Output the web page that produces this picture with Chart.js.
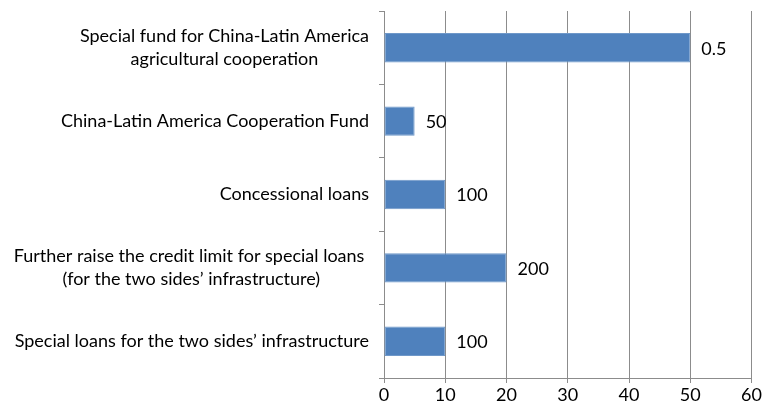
<!DOCTYPE html>
<html>
<head>
<meta charset="utf-8">
<script src="https://cdn.jsdelivr.net/npm/chart.js@4.4.1/dist/chart.umd.min.js"></script>
<style>
  html, body { margin: 0; padding: 0; background: #fff; }
  #chart { display: block; }
</style>
</head>
<body>
<canvas id="chart" width="763" height="406"></canvas>
<script>
// categories, top to bottom (each entry = lines of the label)
const categories = [
    ['Special fund for China-Latin America', 'agricultural cooperation'],
    ['China-Latin America Cooperation Fund'],
    ['Concessional loans'],
    ['Further raise the credit limit for special loans ', '(for the two sides\u2019 infrastructure)'],
    ['Special loans for the two sides\u2019 infrastructure']
];
// bar lengths on the axis
const barValues = [50, 5, 10, 20, 10];
// text printed next to each bar
const valueLabels = ['0.5', '50', '100', '200', '100'];
// x axis
const xMin = 0, xMax = 60, xStep = 10;

const FONT = 'Lato, "Open Sans", sans-serif';
const FONT_SIZE = 18;
const GRID = '#8c8c8c';

// draws the category labels (centered per block, right edge near axis) and the bar labels
const labelPlugin = {
    id: 'labelPlugin',
    afterDraw(chart) {
        const ctx = chart.ctx;
        const yScale = chart.scales.y;
        const xScale = chart.scales.x;
        ctx.save();
        ctx.font = FONT_SIZE + 'px ' + FONT;
        ctx.fillStyle = '#000';
        ctx.textBaseline = 'middle';
        const lineH = 23;
        const rightEdge = yScale.right - 15;
        categories.forEach(function(lines, i) {
            const yc = yScale.getPixelForValue(i);
            const w = Math.max.apply(null, lines.map(l => ctx.measureText(l).width));
            const xc = rightEdge - w / 2;
            ctx.textAlign = 'center';
            lines.forEach(function(line, j) {
                ctx.fillText(line, xc, yc + (j - (lines.length - 1) / 2) * lineH);
            });
            // value label after the bar end
            ctx.textAlign = 'left';
            ctx.fillText(valueLabels[i], xScale.getPixelForValue(barValues[i]) + 11, yc + 1);
        });
        ctx.restore();
    }
};

const ctx = document.getElementById('chart').getContext('2d');
new Chart(ctx, {
    type: 'bar',
    data: {
        labels: categories,
        datasets: [{
            data: barValues,
            backgroundColor: '#4f81bd',
            borderColor: '#6f98c9',
            borderWidth: 1,
            borderSkipped: false,
            barPercentage: 0.4,
            categoryPercentage: 1.0
        }]
    },
    options: {
        indexAxis: 'y',
        responsive: false,
        animation: false,
        layout: { padding: { top: 11, right: 10, left: 0, bottom: 0 } },
        plugins: {
            legend: { display: false },
            tooltip: { enabled: false }
        },
        scales: {
            y: {
                ticks: { display: false },
                grid: {
                    offset: true,
                    drawOnChartArea: false,
                    color: GRID,
                    tickLength: 5
                },
                border: { color: GRID, width: 1 },
                afterFit: function(scale) { scale.width = 384; }
            },
            x: {
                min: xMin,
                max: xMax,
                ticks: {
                    stepSize: xStep,
                    color: '#000',
                    font: { family: FONT, size: FONT_SIZE },
                    padding: 1
                },
                grid: { color: GRID, tickLength: 5 },
                border: { color: GRID, width: 1 },
                afterFit: function(scale) { scale.height = 28; }
            }
        }
    },
    plugins: [labelPlugin]
});
</script>
</body>
</html>
